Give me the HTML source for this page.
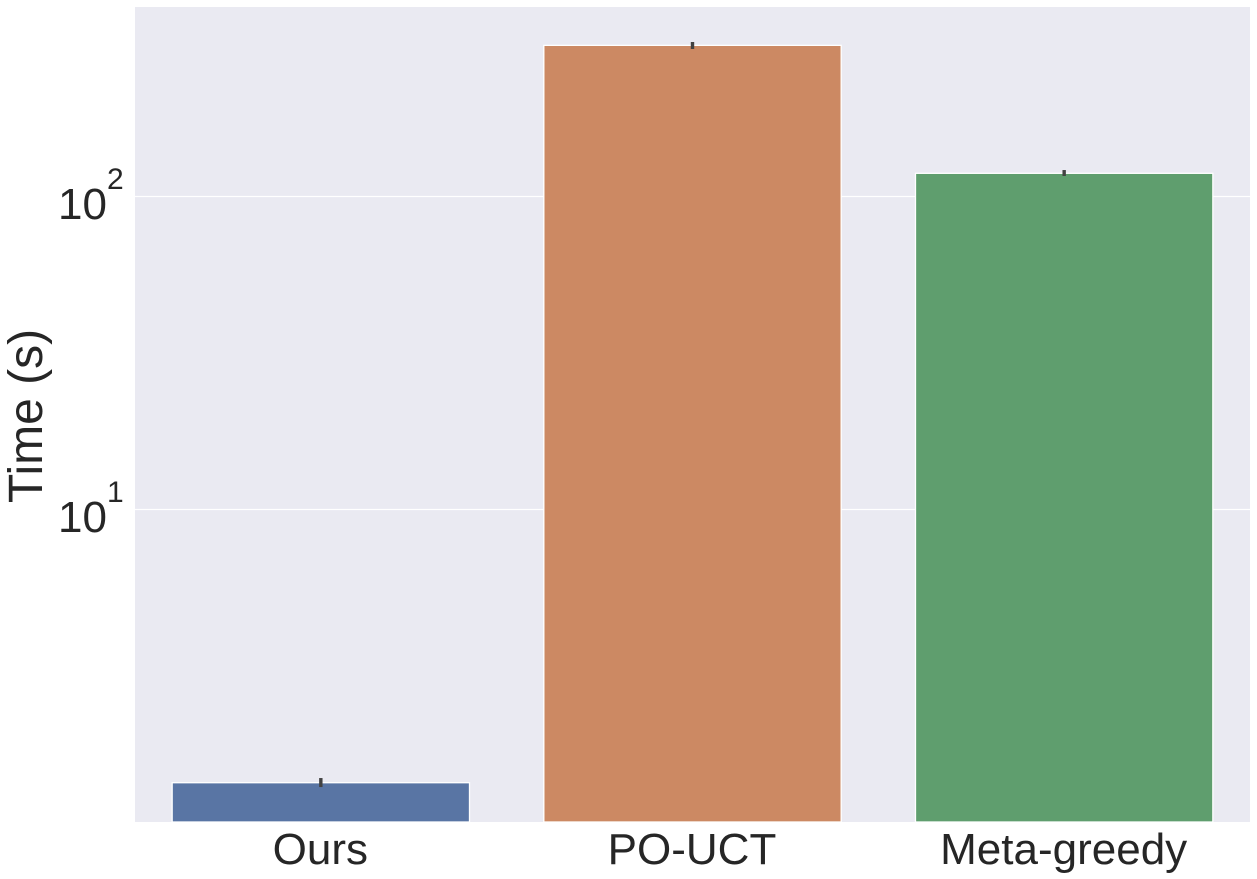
<!DOCTYPE html>
<html>
<head>
<meta charset="utf-8">
<title>Time bar chart</title>
<style>
html,body{margin:0;padding:0;background:#fff;}
svg{display:block;font-family:"Liberation Sans",Arial,sans-serif;}
</style>
</head>
<body>
<svg id="chart" width="1257" height="879" viewBox="0 0 1257 879" xmlns="http://www.w3.org/2000/svg">
<rect x="135" y="7" width="1115" height="815" fill="#eaeaf2"></rect>
<g id="grid"></g>
<g id="bars"></g>
<g id="errs"></g>
<g id="xlabels"></g>
<g id="ylabels"></g>
<text transform="translate(42,416) rotate(-90)" text-anchor="middle" font-size="48" fill="#262626">Time (s)</text>
</svg>
<script>
const categories = ["Ours", "PO-UCT", "Meta-greedy"];
const meanValues = [1.34, 304, 118.6];
const errLow = [1.298, 296, 116.3];
const errHigh = [1.387, 311.6, 121.5];
const barColors = ["#5975a4", "#cc8963", "#5f9e6e"];
const tickBase = ["10", "10"];
const tickExponents = [1, 2];

const NS = "http://www.w3.org/2000/svg";
const plotLeft = 135, plotRight = 1250, plotBottom = 822;
const decadePx = 313, y10 = 509.5;

function yScale(v) {
  return y10 - (Math.log10(v) - 1) * decadePx;
}
function bandCenter(i) {
  return plotLeft + (plotRight - plotLeft) * (i + 0.5) / categories.length;
}
const bandWidth = (plotRight - plotLeft) / categories.length * 0.8;

function make(tag, attrs, parent) {
  const el = document.createElementNS(NS, tag);
  for (const k in attrs) el.setAttribute(k, attrs[k]);
  parent.appendChild(el);
  return el;
}

const gGrid = document.getElementById("grid");
const gBars = document.getElementById("bars");
const gErrs = document.getElementById("errs");
const gX = document.getElementById("xlabels");
const gY = document.getElementById("ylabels");

tickExponents.forEach(function (exp, i) {
  const y = yScale(Math.pow(10, exp));
  const line = make("line", {x1: plotLeft, x2: plotRight, y1: y, y2: y, stroke: "#ffffff", "stroke-width": 1.2}, gGrid);
  
  

  const base = make("text", {x: 107, y: y + 22.5, "text-anchor": "end", "font-size": 44, fill: "#262626"}, gY);
  base.textContent = tickBase[i];
  
  

  const sup = make("text", {x: 107, y: y - 7.5, "text-anchor": "start", "font-size": 30, fill: "#262626"}, gY);
  sup.textContent = String(exp);
  
  
});

categories.forEach(function (cat, i) {
  const cx = bandCenter(i);
  const top = yScale(meanValues[i]);
  const bar = make("rect", {x: cx - bandWidth / 2, y: top, width: bandWidth, height: plotBottom - top, fill: barColors[i], stroke: "#ffffff", "stroke-width": 1.3}, gBars);
  
  

  const err = make("line", {x1: cx, x2: cx, y1: yScale(errLow[i]), y2: yScale(errHigh[i]), stroke: "#424242", "stroke-width": 3.4}, gErrs);
  
  

  const label = make("text", {x: cx - 0.5, y: 864, "text-anchor": "middle", "font-size": 44, fill: "#262626"}, gX);
  label.textContent = cat;
  
  
});
</script>
</body>
</html>
